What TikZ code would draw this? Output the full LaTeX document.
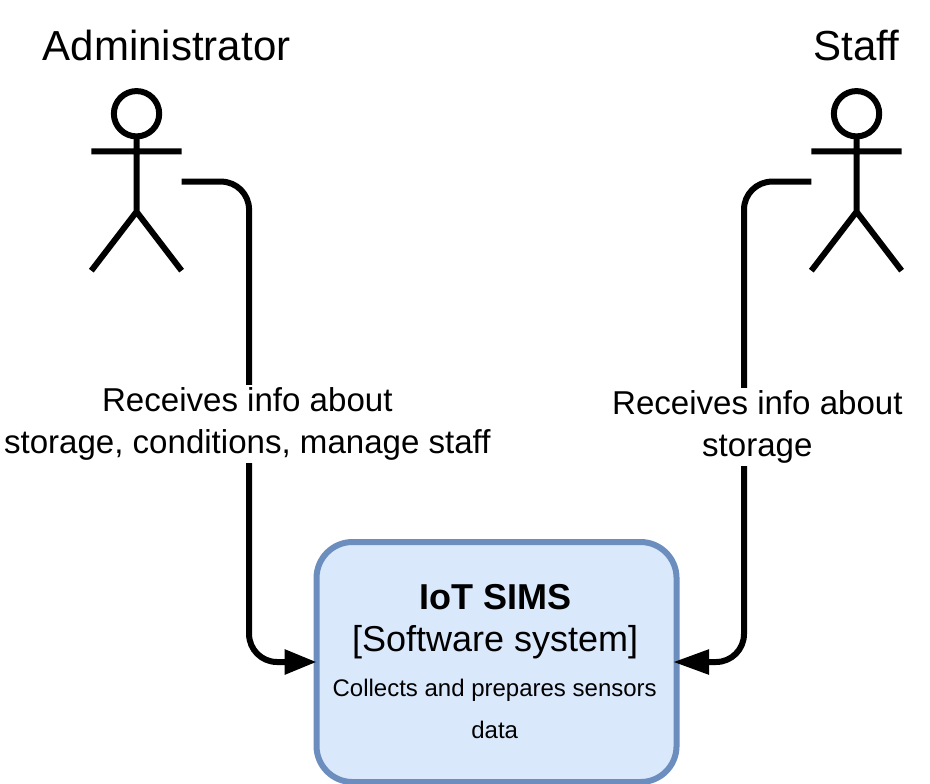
\documentclass[tikz,border=0pt]{standalone}
\usepackage{fontspec}
\setmainfont{Liberation Sans}
\usetikzlibrary{arrows.meta,calc}
\definecolor{boxfill}{HTML}{DAE8FC}
\definecolor{boxline}{HTML}{6C8EBF}
\tikzset{
 limb/.style={line width=4.5pt},
 flow/.style={line width=4.5pt,rounded corners=21pt,-{Triangle[length=#1,width=18pt]}},
 lbl/.style={font=\fontsize{24.8}{31.5}\selectfont,inner xsep=0pt,inner ysep=2pt,fill=white,align=center,text=black},
 title/.style={font=\fontsize{31.5}{36}\selectfont,inner sep=0pt},
}
\begin{document}
\begin{tikzpicture}[x=1pt,y=-1pt,line join=round]
 \useasboundingbox (0,0) rectangle (697.5,587.25);
 % administrator
 \node[title] (admin) at (125,34) {Administrator};
 \draw[limb] (102.4,85.3) circle (17);
 \draw[limb] (102.4,102.3)--(102.4,158.8) (68.5,113.5)--(136.2,113.5) (68.5,203)--(102.4,158.8)--(136.2,203);
 \coordinate (adminhand) at (136.2,136.2);
 % staff
 \node[title] (staff) at (642.5,34) {Staff};
 \draw[limb] (642.4,85.3) circle (17);
 \draw[limb] (642.4,102.3)--(642.4,158.8) (608.5,113.5)--(676.2,113.5) (608.5,203)--(642.4,158.8)--(676.2,203);
 \coordinate (staffhand) at (608.5,136.2);
 % system
 \node[draw=boxline,fill=boxfill,line width=4.5pt,rounded corners=27pt,minimum width=270pt,minimum height=180pt,inner sep=0pt,outer sep=0pt] (sims) at (372.4,496.5) {};
 \draw[flow=24pt] (adminhand) -| (186.8,496.5) -- (sims.west |- 0,496.5);
 \draw[flow=27pt] (staffhand) -| (558,496.5) -- ([xshift=-2.5pt]sims.east |- 0,496.5);
 \node[lbl] (lbla) at (185.5,318) {Receives info about\\storage, conditions, manage staff};
 \node[lbl] (lblb) at (568,320) {Receives info about\\storage};
 \node[font=\fontsize{27}{32}\selectfont\bfseries,inner sep=0pt] (simsname) at (371.5,447.5) {IoT SIMS};
 \node[font=\fontsize{27}{32}\selectfont,inner sep=0pt] (simskind) at (371.3,481.5) {[Software system]};
 \node[font=\fontsize{18}{31.5}\selectfont,inner sep=0pt,align=center] (simstext) at (371,531.5) {Collects and prepares sensors\\data};
\end{tikzpicture}
\end{document}
